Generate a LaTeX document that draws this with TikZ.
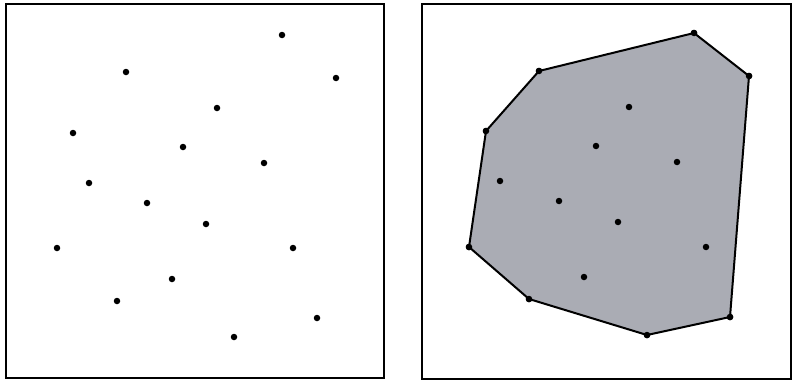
\documentclass[tikz,border=0pt]{standalone}
\usepackage{tikz}

\definecolor{hullgray}{RGB}{170,172,180}

\begin{document}
\begin{tikzpicture}[
    x=1pt, y=-1pt,
    frame/.style={draw, line width=1.6pt},
    pt/.style={circle, fill=black, inner sep=0pt, minimum size=6.5pt},
    hull/.style={draw, line width=2pt, fill=hullgray, line join=round}
]
\useasboundingbox (0,0) rectangle (792,380);
% left panel: the point set
\node[frame, rectangle, minimum width=378pt, minimum height=374pt, inner sep=0pt, anchor=north west] (left) at (5,3) {};
\node[pt] (a1) at (282,35) {};
\node[pt] (a2) at (126,72) {};
\node[pt] (a3) at (336,78) {};
\node[pt] (a4) at (217,108) {};
\node[pt] (a5) at (73,133) {};
\node[pt] (a6) at (183,147) {};
\node[pt] (a7) at (264,163) {};
\node[pt] (a8) at (89,183) {};
\node[pt] (a9) at (147,203) {};
\node[pt] (a10) at (206,224) {};
\node[pt] (a11) at (57,248) {};
\node[pt] (a12) at (293,248) {};
\node[pt] (a13) at (172,279) {};
\node[pt] (a14) at (117,301) {};
\node[pt] (a15) at (317,318) {};
\node[pt] (a16) at (234,337) {};
% right panel: same points with convex hull
\node[frame, rectangle, minimum width=369pt, minimum height=375pt, inner sep=0pt, anchor=north west] (right) at (421,3) {};
\node[pt] (b1) at (694,33) {};
\node[pt] (b2) at (539,71) {};
\node[pt] (b3) at (749,76) {};
\node[pt] (b5) at (486,131) {};
\node[pt] (b11) at (469,247) {};
\node[pt] (b14) at (529,299) {};
\node[pt] (b16) at (647,335) {};
\node[pt] (b15) at (730,317) {};
\path[hull] (b1.center) -- (b3.center) -- (b15.center) -- (b16.center) -- (b14.center) -- (b11.center) -- (b5.center) -- (b2.center) -- cycle;
\node[pt] at (b1) {};
\node[pt] at (b2) {};
\node[pt] at (b3) {};
\node[pt] at (b5) {};
\node[pt] at (b11) {};
\node[pt] at (b14) {};
\node[pt] at (b16) {};
\node[pt] at (b15) {};
\node[pt] (b4) at (629,107) {};
\node[pt] (b6) at (596,146) {};
\node[pt] (b7) at (677,162) {};
\node[pt] (b8) at (500,181) {};
\node[pt] (b9) at (559,201) {};
\node[pt] (b10) at (618,222) {};
\node[pt] (b12) at (706,247) {};
\node[pt] (b13) at (584,277) {};
\end{tikzpicture}
\end{document}
